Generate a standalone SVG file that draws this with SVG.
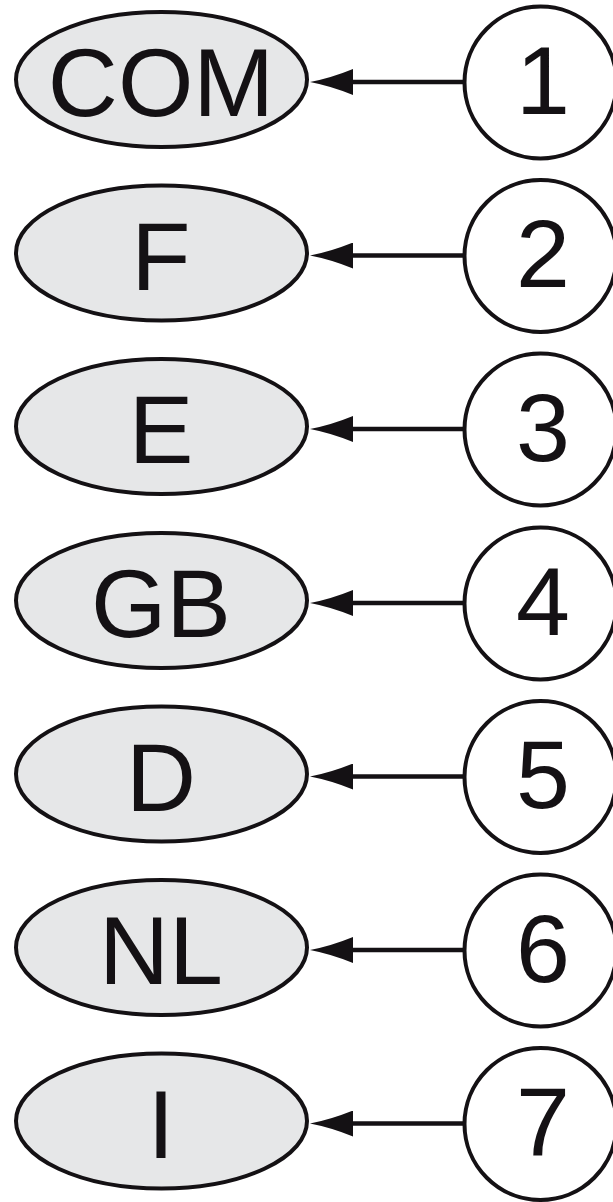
<svg xmlns="http://www.w3.org/2000/svg" width="613" height="1202" viewBox="0 0 613 1202">
<style>
.e{fill:#e6e7e8;stroke:#141114;stroke-width:4}
.c{fill:#ffffff;stroke:#141114;stroke-width:4}
.t{font-family:"Liberation Sans",Arial,sans-serif;font-size:97px;fill:#141114;text-anchor:middle}
.l{stroke:#141114;stroke-width:4.5;fill:none}
</style>
<defs>
<marker id="ah" markerUnits="userSpaceOnUse" viewBox="0 0 44 26" markerWidth="44" markerHeight="26" refX="1" refY="13" orient="auto">
<path d="M0,0 L0,26 Q22,17 43,13 Q22,9 0,0 Z" fill="#141114"/>
</marker>
</defs>
<rect width="613" height="1202" fill="#ffffff"/>
<g id="connectors">
<line class="l" x1="463" y1="82" x2="352" y2="82" marker-end="url(#ah)"/>
<line class="l" x1="463" y1="255.5" x2="352" y2="255.5" marker-end="url(#ah)"/>
<line class="l" x1="463" y1="429" x2="352" y2="429" marker-end="url(#ah)"/>
<line class="l" x1="463" y1="603" x2="352" y2="603" marker-end="url(#ah)"/>
<line class="l" x1="463" y1="776.5" x2="352" y2="776.5" marker-end="url(#ah)"/>
<line class="l" x1="463" y1="950" x2="352" y2="950" marker-end="url(#ah)"/>
<line class="l" x1="463" y1="1123.5" x2="352" y2="1123.5" marker-end="url(#ah)"/>
</g>
<g id="node-COM"><ellipse class="e" cx="161.5" cy="79.5" rx="145.5" ry="67.5"/><text class="t" x="161" y="116">COM</text></g>
<g id="node-F"><ellipse class="e" cx="161.5" cy="253" rx="145.5" ry="67.5"/><text class="t" x="161" y="289.5">F</text></g>
<g id="node-E"><ellipse class="e" cx="161.5" cy="426.5" rx="145.5" ry="67.5"/><text class="t" x="161" y="463">E</text></g>
<g id="node-GB"><ellipse class="e" cx="161.5" cy="600.5" rx="145.5" ry="67.5"/><text class="t" x="161" y="637">GB</text></g>
<g id="node-D"><ellipse class="e" cx="161.5" cy="774" rx="145.5" ry="67.5"/><text class="t" x="161" y="810.5">D</text></g>
<g id="node-NL"><ellipse class="e" cx="161.5" cy="947.5" rx="145.5" ry="67.5"/><text class="t" x="161" y="984">NL</text></g>
<g id="node-I"><ellipse class="e" cx="161.5" cy="1121" rx="145.5" ry="67.5"/><text class="t" x="161" y="1157.5">I</text></g>
<g id="node-1"><circle class="c" cx="540.5" cy="82.5" r="76"/><text class="t" x="543" y="113.5">1</text></g>
<g id="node-2"><circle class="c" cx="540.5" cy="256" r="76"/><text class="t" x="543" y="287">2</text></g>
<g id="node-3"><circle class="c" cx="540.5" cy="429.5" r="76"/><text class="t" x="543" y="460.5">3</text></g>
<g id="node-4"><circle class="c" cx="540.5" cy="603.5" r="76"/><text class="t" x="543" y="634.5">4</text></g>
<g id="node-5"><circle class="c" cx="540.5" cy="777" r="76"/><text class="t" x="543" y="808">5</text></g>
<g id="node-6"><circle class="c" cx="540.5" cy="950.5" r="76"/><text class="t" x="543" y="981.5">6</text></g>
<g id="node-7"><circle class="c" cx="540.5" cy="1124" r="76"/><text class="t" x="543" y="1155">7</text></g>
</svg>
